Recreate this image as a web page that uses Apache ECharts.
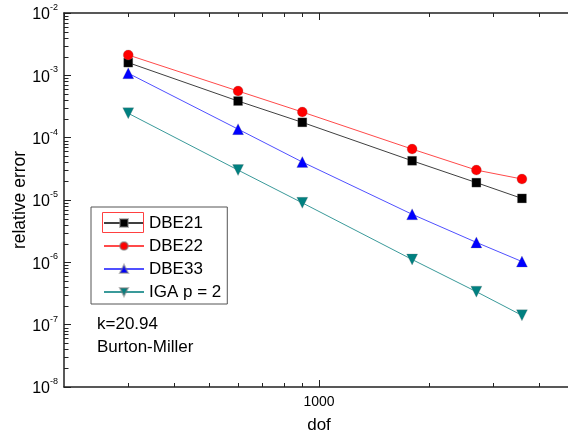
<!DOCTYPE html>
<html>
<head>
<meta charset="utf-8">
<script src="https://cdn.jsdelivr.net/npm/echarts@6/dist/echarts.min.js"></script>
<style>
html,body{margin:0;padding:0;background:#fff;}
#chart{width:568px;height:437px;}
</style>
</head>
<body>
<div id="chart"></div>
<script>
// ---- data ----
const dof = [300, 600, 900, 1800, 2700, 3600];
const dbe21 = [1.6e-3, 3.87e-4, 1.76e-4, 4.26e-5, 1.9e-5, 1.06e-5];
const dbe22 = [2.12e-3, 5.6e-4, 2.58e-4, 6.56e-5, 3.02e-5, 2.17e-5];
const dbe33 = [1.08e-3, 1.37e-4, 4.07e-5, 5.9e-6, 2.09e-6, 1.03e-6];
const iga   = [2.46e-4, 3.02e-5, 9.0e-6, 1.11e-6, 3.38e-7, 1.41e-7];
const seriesNames = ['DBE21', 'DBE22', 'DBE33', 'IGA p = 2'];
const xRange = [200, 5000];
const yRange = [1e-8, 1e-2];
const xMinorTicks = [300, 400, 500, 600, 700, 800, 900, 2000, 3000, 4000];
const yMinorMantissas = [2, 3, 4, 5, 6, 7, 8, 9];
const yDecades = [-8, -7, -6, -5, -4, -3];
const annotations = ['k=20.94', 'Burton-Miller'];

const yMinorTicks = [];
yDecades.forEach(d => yMinorMantissas.forEach(m => yMinorTicks.push(m * Math.pow(10, d))));

const FONT = 'Liberation Sans, Arial, sans-serif';
const AXIS_COLOR = '#222';

function pairs(xs, ys) { return xs.map((x, i) => [x, ys[i]]); }

const chart = echarts.init(document.getElementById('chart'), null, {renderer: 'canvas'});

const lineSeries = (name, data, color, lineColor, symbol, size, rotate) => ({
  name, type: 'line', data: pairs(dof, data),
  symbol, symbolSize: size, symbolRotate: rotate || 0,
  showAllSymbol: true,
  lineStyle: {color: lineColor, width: 1},
  itemStyle: {color, borderColor: 'rgba(120,120,120,0.5)', borderWidth: 0.5},
  z: 3
});

const option = {
  animation: false,
  backgroundColor: '#fff',
  textStyle: {fontFamily: FONT},
  grid: {left: 64, top: 13, width: 510, bottom: 50, containLabel: false, outerBoundsMode: 'none'},
  legend: {
    data: seriesNames,
    orient: 'vertical',
    left: 91, top: 207,
    padding: [7, 6, 3, 12],
    itemWidth: 40, itemHeight: 10, itemGap: 5,
    borderColor: '#555', borderWidth: 1,
    textStyle: {fontSize: 17, fontFamily: FONT, color: '#000', lineHeight: 18},
    selectedMode: false
  },
  xAxis: [{
    type: 'log', logBase: 10, min: xRange[0], max: xRange[1],
    name: 'dof', nameLocation: 'middle', nameGap: 30, nameMoveOverlap: false,
    nameTextStyle: {fontSize: 17, fontFamily: FONT, color: '#000'},
    axisLine: {show: true, lineStyle: {color: AXIS_COLOR, width: 1.5}},
    axisTick: {show: true, inside: true, length: 7, lineStyle: {color: AXIS_COLOR, width: 1}},
    axisLabel: {show: true, fontSize: 14, fontFamily: FONT, color: '#000', margin: 8,
      showMinLabel: false, showMaxLabel: false,
      formatter: v => (Math.abs(v - 1000) < 1e-6 ? '1000' : '')},
    splitLine: {show: false}
  }, {
    type: 'log', logBase: 10, min: xRange[0], max: xRange[1], position: 'top',
    axisLine: {show: true, lineStyle: {color: AXIS_COLOR, width: 1.5}},
    axisTick: {show: true, inside: true, length: 7, lineStyle: {color: AXIS_COLOR, width: 1}},
    axisLabel: {show: false},
    splitLine: {show: false}
  }],
  yAxis: [{
    type: 'log', logBase: 10, min: yRange[0], max: yRange[1],
    name: 'relative error', nameLocation: 'middle', nameGap: 35, nameRotate: 90, nameMoveOverlap: false,
    nameTextStyle: {fontSize: 17.5, fontFamily: FONT, color: '#000'},
    axisLine: {show: true, lineStyle: {color: AXIS_COLOR, width: 1.5}},
    axisTick: {show: true, inside: true, length: 7, lineStyle: {color: AXIS_COLOR, width: 1}},
    axisLabel: {
      show: true, margin: 6,
      formatter: v => '{b|10}{s|' + Math.round(Math.log10(v)) + '}',
      rich: {
        b: {fontSize: 16, fontFamily: FONT, color: '#000', lineHeight: 20, verticalAlign: 'bottom'},
        s: {fontSize: 9, fontFamily: FONT, color: '#000', lineHeight: 20, verticalAlign: 'top'}
      }
    },
    splitLine: {show: false}
  }],
  graphic: [
    {type: 'rect', shape: {x: 102.5, y: 212.5, width: 41, height: 20},
     style: {fill: 'none', stroke: '#ff4040', lineWidth: 1}, z: 100},
    {type: 'text', x: 97, y: 324, style: {text: annotations[0], font: '17px ' + FONT, fill: '#000', verticalAlign: 'middle'}},
    {type: 'text', x: 97, y: 347, style: {text: annotations[1], font: '17px ' + FONT, fill: '#000', verticalAlign: 'middle'}}
  ],
  series: [
    lineSeries(seriesNames[0], dbe21, '#000000', '#404040', 'rect', 9),
    lineSeries(seriesNames[1], dbe22, '#ff0000', '#ff4a4a', 'circle', 10),
    lineSeries(seriesNames[2], dbe33, '#0000ff', '#5050ff', 'triangle', 11),
    lineSeries(seriesNames[3], iga, '#008080', '#3a9a9a', 'triangle', 11, 180),
    {
      name: 'yMinor', type: 'custom', silent: true, z: 5,
      data: yMinorTicks.map(v => [xRange[0], v]),
      renderItem: (params, api) => {
        const p = api.coord([api.value(0), api.value(1)]);
        const y = Math.round(p[1]) + 0.5;
        return {type: 'line', shape: {x1: p[0], y1: y, x2: p[0] + 4.5, y2: y},
                style: {stroke: AXIS_COLOR, lineWidth: 1}};
      }
    },
    {
      name: 'xMinor', type: 'custom', silent: true, z: 5,
      data: xMinorTicks.map(v => [v, yRange[0]]),
      renderItem: (params, api) => {
        const pb = api.coord([api.value(0), yRange[0]]);
        const pt = api.coord([api.value(0), yRange[1]]);
        const x = Math.round(pb[0]) + 0.5;
        return {type: 'group', children: [
          {type: 'line', shape: {x1: x, y1: pb[1], x2: x, y2: pb[1] - 4}, style: {stroke: AXIS_COLOR, lineWidth: 1}},
          {type: 'line', shape: {x1: x, y1: pt[1], x2: x, y2: pt[1] + 4}, style: {stroke: AXIS_COLOR, lineWidth: 1}}
        ]};
      }
    }
  ]
};
chart.setOption(option);
</script>
</body>
</html>
